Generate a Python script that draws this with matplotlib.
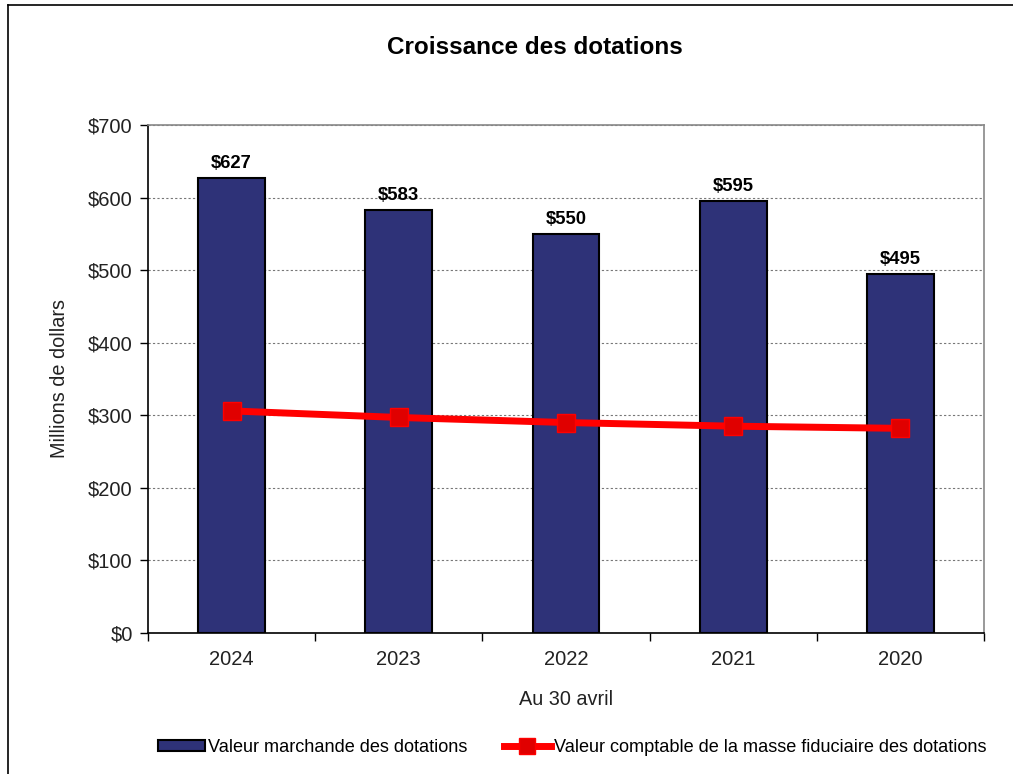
import matplotlib
matplotlib.use("Agg")
import matplotlib.pyplot as plt
from matplotlib.lines import Line2D
import numpy as np

plt.rcParams['font.family'] = ['Liberation Sans', 'DejaVu Sans']

years = ["2024", "2023", "2022", "2021", "2020"]
market_values = [627, 583, 550, 595, 495]
book_values = [306, 297, 290, 285, 282]
yticks = [0, 100, 200, 300, 400, 500, 600, 700]

W, H = 1013, 774
fig = plt.figure(figsize=(W / 100, H / 100), dpi=100)
ax = fig.add_axes([148 / W, 1 - 633 / H, (984 - 148) / W, (633 - 125) / H])

x = np.arange(len(years))
ax.bar(x, market_values, width=0.40, color="#2E3278", edgecolor="black",
       linewidth=1.5, zorder=3, label="Valeur marchande des dotations")
ax.plot(x, book_values, color="#FF0000", linewidth=5, marker="s", markersize=13,
        markerfacecolor="#E00000", markeredgecolor="#FF0000", zorder=4,
        label="Valeur comptable de la masse fiduciaire des dotations")

for xi, v in zip(x, market_values):
    ax.text(xi, v + 8, f"${v}", ha="center", va="bottom", fontsize=13.3,
            fontweight="bold", color="black")

ax.set_xlim(-0.5, len(years) - 0.5)
ax.set_ylim(0, 700)
ax.set_yticks(yticks)
ax.set_yticklabels([f"${t}" for t in yticks], fontsize=14.5, color="#222222")
ax.set_xticks(x)
ax.set_xticklabels(years, fontsize=14.5, color="#222222")
ax.tick_params(axis="x", which="major", length=0, pad=12.5)
ax.set_xticks(np.arange(-0.5, len(years), 1), minor=True)
ax.tick_params(axis="x", which="minor", length=6, width=1, color="black", direction="out")
ax.tick_params(axis="y", length=6, width=1, color="black", direction="out", pad=5)

ax.yaxis.grid(True, linestyle=(0, (2, 2)), color="#777777", linewidth=0.8, zorder=0)
ax.set_axisbelow(True)

for side in ["top", "right"]:
    ax.spines[side].set_color("#888888")
    ax.spines[side].set_linewidth(1.2)
for side in ["left", "bottom"]:
    ax.spines[side].set_color("black")
    ax.spines[side].set_linewidth(1.2)

ax.set_ylabel("Millions de dollars", fontsize=14.3, color="#222222", labelpad=14)
ax.set_xlabel("Au 30 avril", fontsize=14.3, color="#222222", labelpad=15)

fig.text(535 / W, 1 - 47 / H, "Croissance des dotations", ha="center", va="center",
         fontsize=17.5, fontweight="bold", color="black")

handles = [
    plt.Rectangle((0, 0), 1, 1, facecolor="#2E3278", edgecolor="black", linewidth=1.5),
    Line2D([0], [0], color="#FF0000", linewidth=5, marker="s", markersize=12,
           markerfacecolor="#E00000", markeredgecolor="#FF0000"),
]
labels = ["Valeur marchande des dotations",
          "Valeur comptable de la masse fiduciaire des dotations"]
fig.legend(handles, labels, loc="center", bbox_to_anchor=(572 / W, 1 - 747 / H),
           ncol=2, frameon=False, fontsize=13.1, handlelength=2.6, handletextpad=0.15,
           columnspacing=2.0, handleheight=0.55)

fig.add_artist(Line2D([8 / W, 8 / W], [0, 1 - 5 / H], transform=fig.transFigure,
                      color="black", linewidth=1.2))
fig.add_artist(Line2D([8 / W, 1], [1 - 5 / H, 1 - 5 / H], transform=fig.transFigure,
                      color="black", linewidth=1.2))

fig.savefig("out.png", dpi=100)
